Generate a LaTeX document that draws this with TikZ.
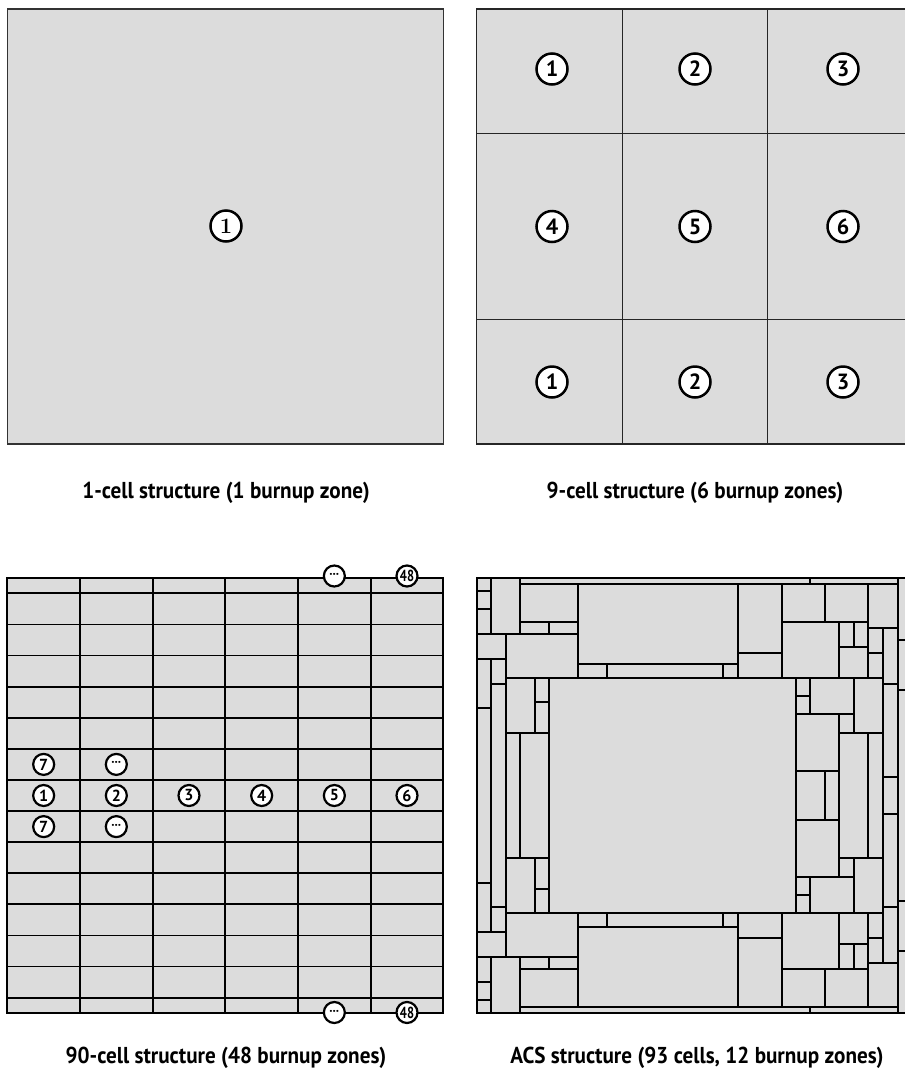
\documentclass[tikz,border=0pt]{standalone}
\usepackage{fontspec}
\usepackage{graphicx}
\newfontfamily\capfont{PT Sans}[FakeStretch=0.92]
\newfontfamily\zonefont{PT Sans}
\definecolor{cellgray}{RGB}{220,220,220}
\newcommand\acspair[4]{%
  \draw[acsline] (#1,#2) rectangle (#3,#4);
  \draw[acsline] (#1,{1591-#2}) rectangle (#3,{1591-#4});}
\tikzset{
  onecell/.style={fill=cellgray, draw=black!80, line width=1.2pt},
  ninecell/.style={fill=cellgray, draw=black!85, line width=1.3pt},
  gridline/.style={draw=black, line width=1.8pt},
  acsline/.style={fill=cellgray, draw=black, line width=1.8pt},
  bigzone/.style={circle, draw=black, line width=2.5pt, fill=white, minimum size=31pt, inner sep=0pt, font=\zonefont\bfseries\fontsize{22}{22}\selectfont},
  smallzone/.style={circle, draw=black, line width=2.2pt, fill=white, minimum size=21pt, inner sep=0pt, font=\zonefont\bfseries\fontsize{16}{16}\selectfont},
  dotzone/.style={smallzone, font=\zonefont\bfseries\fontsize{13}{13}\selectfont},
  caption/.style={font=\capfont\bfseries\fontsize{23}{23}\selectfont, inner sep=0pt}
}
\begin{document}
\begin{tikzpicture}[x=1pt,y=-1pt]
\useasboundingbox (0,0) rectangle (905,1077);
\begin{scope}
\clip (0,0) rectangle (905,1077);
% ---------- 1-cell ----------
\draw[onecell] (7.67,9) rectangle (443.33,444);
\node[bigzone, font=\bfseries\fontsize{22}{22}\selectfont] (z1a) at (226,226) {1};
% ---------- 9-cell ----------
\foreach \xa/\xb in {476.33/622.33, 622.33/767.33, 767.33/913}{
  \foreach \ya/\yb in {9/133.33, 133.33/319.33, 319.33/444}{
    \draw[ninecell] (\xa,\ya) rectangle (\xb,\yb);
  }
}
\node[bigzone] (n1) at (552,69) {1};
\node[bigzone] (n2) at (695,69) {2};
\node[bigzone] (n3) at (843,69) {3};
\node[bigzone] (n4) at (552,226.5) {4};
\node[bigzone] (n5) at (695,226.5) {5};
\node[bigzone] (n6) at (843,226.5) {6};
\node[bigzone] (n7) at (552,382) {1};
\node[bigzone] (n8) at (695,382) {2};
\node[bigzone] (n9) at (843,382) {3};
% ---------- 90-cell ----------
\fill[cellgray] (7.33,578.33) rectangle (443.33,1012.67);
\foreach \k in {1,...,5}{
  \draw[gridline] ({7.33+72.667*\k},578.33) -- ({7.33+72.667*\k},1012.67);
}
\foreach \k in {0,...,13}{
  \draw[gridline] (7.33,{593.3+31.1*\k}) -- (443.33,{593.3+31.1*\k});
}
\draw[gridline] (7.33,578.33) rectangle (443.33,1012.67);
\node[smallzone] (g1) at (43.67,795.5) {1};
\node[smallzone] (g2) at (116.33,795.5) {2};
\node[smallzone] (g3) at (189,795.5) {3};
\node[smallzone] (g4) at (261.67,795.5) {4};
\node[smallzone] (g5) at (334.33,795.5) {5};
\node[smallzone] (g6) at (407,795.5) {6};
\node[smallzone] (g7a) at (43.67,764.4) {7};
\node[smallzone] (g7b) at (43.67,826.6) {7};
\node[dotzone] (gda) at (116.33,764.4) {···};
\node[dotzone] (gdb) at (116.33,826.6) {···};
\node[dotzone] (gdc) at (334.33,576) {···};
\node[dotzone] (gdd) at (334.33,1012.5) {···};
\node[smallzone] (g48a) at (407,576) {\scalebox{0.78}[1]{48}};
\node[smallzone] (g48b) at (407,1012.5) {\scalebox{0.78}[1]{48}};
% ---------- ACS ----------
% top half (mirrored)
\acspair{476.67}{577.67}{491}{591}
\acspair{476.67}{591}{491}{609.33}
\acspair{476.67}{609.33}{491}{634}
\acspair{491}{577.67}{520}{634}
\acspair{476.67}{634}{505.67}{659}
\acspair{520}{577.67}{810}{584.33}
\acspair{810}{577.67}{897.67}{584.33}
\acspair{520}{584.33}{577.67}{621.67}
\acspair{520}{621.67}{549}{634}
\acspair{549}{621.67}{577.67}{634}
\acspair{505.67}{634}{577.67}{677.67}
\acspair{577.67}{584.33}{737.67}{664.33}
\acspair{577.67}{664.33}{606.67}{677.67}
\acspair{606.67}{664.33}{723.33}{677.67}
\acspair{723.33}{664.33}{737.67}{677.67}
\acspair{737.67}{584.33}{781.67}{652.67}
\acspair{737.67}{652.67}{781.67}{677.67}
\acspair{781.67}{584.33}{825}{621.67}
\acspair{825}{584.33}{868.33}{621.67}
\acspair{781.67}{621.67}{839}{677.67}
\acspair{839}{621.67}{854}{647.33}
\acspair{854}{621.67}{868.33}{647.33}
\acspair{839}{647.33}{868.33}{677.67}
\acspair{868.33}{584.33}{897.67}{628.33}
\acspair{868.33}{628.33}{882.67}{652.67}
\acspair{868.33}{652.67}{882.67}{677.67}
\acspair{882.67}{628.33}{897.67}{684}
\acspair{882.67}{684}{897.67}{776.67}
\acspair{897.67}{577.67}{912}{640}
\acspair{897.67}{640}{912}{690}
\acspair{476.67}{659}{491}{708.33}
\acspair{491}{659}{505.67}{684}
\acspair{505.67}{677.67}{535}{733.33}
\acspair{535}{677.67}{549}{702.33}
\acspair{535}{702.33}{549}{733.33}
\acspair{796}{677.67}{810}{696}
\acspair{796}{696}{810}{714.33}
\acspair{810}{677.67}{854}{714.33}
\acspair{854}{677.67}{882.67}{733.33}
\acspair{839}{714.33}{854}{733.33}
\acspair{796}{714.33}{839}{770.67}
% cells crossing the middle
\draw[acsline] (505.67,733.33) rectangle (520,857.67);
\draw[acsline] (520,733.33) rectangle (549,857.67);
\draw[acsline] (476.67,708.33) rectangle (491,882.67);
\draw[acsline] (491,684) rectangle (505.67,907);
\draw[acsline] (549,677.67) rectangle (796,913.33);
\draw[acsline] (839,733.33) rectangle (868.33,857.67);
\draw[acsline] (868.33,733.33) rectangle (882.67,857.67);
\draw[acsline] (796,770.67) rectangle (825,820.33);
\draw[acsline] (825,770.67) rectangle (839,820.33);
\draw[acsline] (882.67,776.67) rectangle (897.67,814.33);
\draw[acsline] (897.67,690) rectangle (912,901);
\draw[black, line width=2.2pt] (476.67,577.67) rectangle (912,1013.33);
\end{scope}
% ---------- captions ----------
\node[caption] (c1) at (226,493) {1-cell structure (1 burnup zone)};
\node[caption] (c2) at (695,493) {9-cell structure (6 burnup zones)};
\node[caption] (c3) at (226,1058) {90-cell structure (48 burnup zones)};
\node[caption] (c4) at (697,1058) {ACS structure (93 cells, 12 burnup zones)};
\end{tikzpicture}
\end{document}
